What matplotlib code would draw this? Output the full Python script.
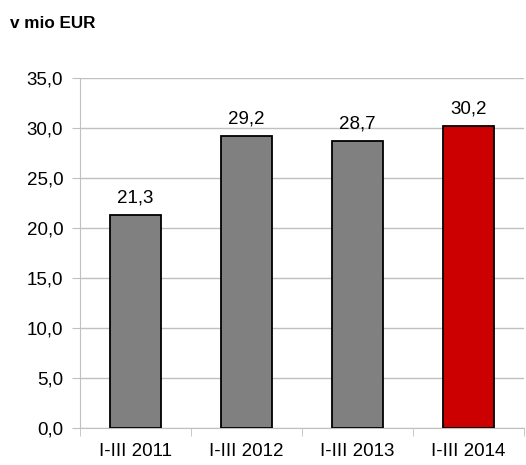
import matplotlib.pyplot as plt
import numpy as np

categories = ['I-III 2011', 'I-III 2012', 'I-III 2013', 'I-III 2014']
values = [21.3, 29.2, 28.7, 30.2]
colors = ['#808080', '#808080', '#808080', '#cc0000']

plt.rcParams['font.family'] = ['Liberation Sans', 'DejaVu Sans']

fig = plt.figure(figsize=(5.26, 4.65), dpi=100)
ax = fig.add_axes([0.152, 0.08, 0.844, 0.752])

x = np.arange(len(categories))
bars = ax.bar(x, values, width=0.46, color=colors, edgecolor='black', linewidth=1.3, zorder=3)

for xi, v in zip(x, values):
    ax.annotate(f'{v:.1f}'.replace('.', ','), (xi, v), xytext=(0, 6),
                textcoords='offset points', ha='center', va='bottom', fontsize=13.5)

ax.set_ylim(0, 35)
ax.set_xlim(-0.5, len(categories) - 0.5)
ticks = np.arange(0, 35.1, 5)
ax.set_yticks(ticks)
ax.set_yticklabels([f'{t:.1f}'.replace('.', ',') for t in ticks], fontsize=13.5)
ax.yaxis.grid(True, color='#c0c0c0', linewidth=1, zorder=0)
ax.tick_params(axis='y', length=6, color='#c0c0c0', pad=6)

ax.set_xticks(x)
ax.set_xticklabels(categories, fontsize=13.5)
ax.set_xticks(np.arange(-0.5, len(categories), 1), minor=True)
ax.tick_params(axis='x', which='major', length=0, pad=11)
ax.tick_params(axis='x', which='minor', length=6, color='#c0c0c0')

for s in ['top', 'right']:
    ax.spines[s].set_visible(False)
ax.spines['left'].set_color('#c0c0c0')
ax.spines['bottom'].set_color('#c0c0c0')

fig.text(0.019, 0.95, 'v mio EUR', fontsize=12.3, fontweight='bold', va='center')

fig.savefig('out.png', dpi=100)
